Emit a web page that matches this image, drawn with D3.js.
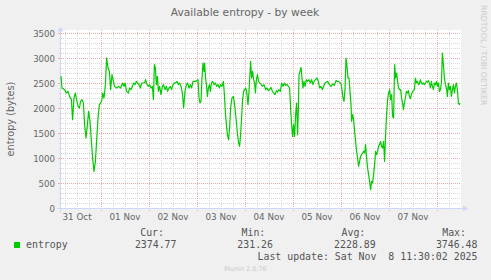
<html>
<head>
<script src="https://d3js.org/d3.v7.min.js"></script>
<style>
    body { margin: 0; background: #f0f0f0; }
    svg { display: block; font-family: "DejaVu Sans", sans-serif; }
    .mono { font-family: "DejaVu Sans Mono", monospace; font-size: 9.9px; fill: #555; }
</style>
</head>
<body>
<svg id="chart" width="491" height="280"></svg>
<script>
// hours after 31 Oct 2025 04:00, and the entropy read at that time
const hourOffsets = [
    0, 0.5, 1.8, 2.7, 3.5, 4.3, 5.2, 5.8, 6.5, 7.2, 7.8, 8.5, 9.2, 9.8, 10.5, 11.2, 11.8, 12.5, 13.2, 13.8,
    14.5, 15.2, 15.8, 16.5, 17.2, 17.8, 18.5, 19.2, 19.8, 20.5, 20.8, 21.5, 22.2, 22.8, 23.5, 24.2, 24.8, 25.5, 26.2, 26.8,
    27.8, 28.8, 29.8, 30.8, 31.5,
    32.0, 32.8, 33.7, 34.3, 35.0, 35.7, 36.3, 37.0, 37.7, 38.3, 39.0, 39.7, 40.3, 41.0, 41.7, 42.3, 43.0, 43.7, 44.3, 45.0,
    45.7, 46.2, 46.7, 47.2, 47.7, 48.2, 48.7, 49.3, 50.0, 50.7, 51.3, 52.0, 52.7, 53.3, 54.0, 54.7, 55.3, 56.0, 56.7, 57.3,
    58.0, 58.7, 59.3, 60.0, 60.7, 61.3, 62.0, 62.7, 63.3, 64.0, 64.7, 65.3, 66.0,
    66.3, 67.2, 68.0, 68.5, 69.0, 69.5, 70.0, 70.5, 71.0, 71.5, 71.8, 72.3, 72.8, 73.2, 73.7, 74.2, 74.7, 75.2, 75.8, 76.5,
    77.2, 77.8, 78.5, 79.2, 79.8, 80.5, 81.2, 81.7, 82.2, 82.7, 83.2, 83.8, 84.3, 84.8, 85.5, 86.2, 86.8, 87.5, 88.2, 88.8,
    89.3, 89.8, 90.3, 90.8, 91.3, 91.8, 92.3, 92.8, 93.5, 94.0, 94.5, 94.8, 95.3, 95.8, 96.3, 96.8, 97.2, 97.7, 98.2, 98.8,
    99.8, 100.7, 101.5, 102.3, 103.0, 103.7, 104.3, 105.0, 105.7, 106.3, 107.0, 107.7, 108.3, 109.0, 109.7, 110.3, 111.0, 111.7, 112.3, 113.0,
    113.7, 114.3, 114.8, 115.3, 115.8, 116.3, 116.8, 117.3, 117.8, 118.3, 118.7, 119.0, 119.5, 120.0, 120.5, 121.0, 121.5, 122.0, 122.7, 123.3,
    124.0, 124.7, 125.3, 126.0, 126.7, 127.3, 128.0, 128.7, 129.3, 130.0, 130.7, 131.3, 132.0,
    133.3, 134.2, 135.0, 135.8, 136.7, 137.5, 138.3, 139.2, 140.0, 140.5, 141.0, 141.5, 142.0, 142.5, 143.0, 143.5, 144.0, 144.5, 145.0, 145.3,
    145.8, 146.3, 146.8, 147.3, 147.8, 148.3, 148.8, 149.3, 149.8, 150.3, 150.8, 151.3, 151.8, 152.3, 152.8, 153.3, 153.8, 154.3, 154.8, 155.3,
    155.8, 156.3, 156.8, 157.3, 157.8, 158.3, 158.8, 159.3, 159.8, 160.3, 160.8, 161.3, 161.8, 162.3, 162.8, 163.3, 163.8, 164.3, 164.8, 165.3,
    165.8, 166.3, 166.8,
    167.3, 167.8, 168.3, 168.8, 169.3, 169.8, 170.3, 170.8, 171.2, 171.7, 172.2, 172.7, 173.2, 173.7, 174.2, 174.7, 175.2, 175.7, 176.2, 176.7,
    177.2, 177.7, 178.2, 178.7, 179.2, 179.7, 180.2, 180.7, 181.2, 181.7, 182.2, 182.7, 183.2, 183.7, 184.2, 184.7, 185.2, 185.7, 186.2, 186.7,
    187.2, 187.7, 188.2, 188.7, 189.2, 189.7, 190.2, 190.7, 191.2, 191.7, 192.2, 192.7, 193.2, 193.7, 194.2, 194.7, 195.2, 195.7, 196.2, 196.7,
    197.2, 197.7, 198.2, 198.7, 199.2, 199.5
];
const entropyValues = [
    2650, 2410, 2377, 2310, 2343, 2243, 2177, 1777, 2210, 2310, 2177, 2043, 2010, 2143, 2177, 2110, 1677, 1410, 1677, 1943,
    1743, 1343, 1010, 743, 943, 1343, 1810, 2077, 2110, 2177, 2310, 2210, 2477, 3010, 2810, 2743, 2377, 2677, 2543, 2443,
    2410, 2443, 2410, 2510, 2443,
    2510, 2343, 2310, 2410, 2377, 2443, 2510, 2477, 2543, 2510, 2477, 2410, 2510, 2510, 2510, 2577, 2477, 2443, 2477, 2410,
    2443, 2177, 2877, 2810, 2477, 2643, 2343, 2443, 2277, 2443, 2477, 2377, 2443, 2343, 2410, 2443, 2377, 2477, 2510, 2510,
    2543, 2477, 2510, 2443, 2310, 2010, 2343, 2477, 2510, 2410, 2477, 2410, 2543,
    2543, 2543, 2557, 2577, 2210, 2110, 2143, 2610, 2910, 2743, 2910, 2610, 2443, 2243, 2410, 2477, 2343, 2510, 2543, 2477,
    2510, 2443, 2477, 2410, 2477, 2443, 2543, 2277, 1910, 1677, 1477, 1377, 1610, 2010, 2210, 2243, 2077, 1810, 1510, 1310,
    1243, 1477, 1810, 2177, 2343, 2377, 2410, 2343, 2077, 2343, 2710, 2943, 2610, 2743, 2577, 2510, 2310, 2577, 2677, 2543,
    2490, 2443, 2477, 2377, 2410, 2357, 2377, 2423, 2343, 2310, 2277, 2357, 2330, 2377, 2343, 2510, 2443, 2510, 2463, 2477,
    2443, 2410, 2010, 1677, 1443, 1677, 1443, 1877, 2110, 1477, 2010, 2677, 2743, 2823, 2610, 2410, 2543, 2443, 2577, 2543,
    2577, 2510, 2577, 2477, 2557, 2577, 2610, 2543, 2410, 2443, 2377, 2443, 2510,
    2543, 2477, 2443, 2490, 2463, 2557, 2543, 2530, 2490, 2377, 2210, 2143, 2377, 3010, 2843, 2610, 2610, 2343, 2077, 1743,
    1877, 1777, 1543, 1343, 1143, 1010, 843, 943, 1043, 1077, 1110, 1143, 1110, 1277, 1010, 810, 677, 543, 377, 543,
    510, 677, 877, 1143, 1077, 1143, 1243, 1277, 1343, 1243, 1210, 1343, 943, 1477, 1877, 2177, 2310, 2377, 2177, 2277,
    1843, 1810, 2877,
    2610, 2710, 2543, 2410, 2377, 2377, 2210, 2110, 1977, 2110, 2210, 2343, 2310, 2357, 2243, 2197, 2277, 2330, 2357, 2377,
    2610, 2510, 2543, 2477, 2490, 2577, 2510, 2490, 2510, 2477, 2510, 2543, 2530, 2557, 2510, 2410, 2543, 2443, 2377, 2510,
    2477, 2543, 2443, 2510, 2343, 2377, 2510, 3110, 2877, 2610, 2477, 2410, 2243, 2510, 2377, 2443, 2243, 2377, 2477, 2310,
    2443, 2510, 2377, 2110, 2077, 2110
];
const yTicks = [0, 500, 1000, 1500, 2000, 2500, 3000, 3500];
const legendHeads = ["Cur:", "Min:", "Avg:", "Max:"];
const legendValues = ["2374.77", "231.26", "2228.89", "3746.48"];
const seriesName = "entropy";
const lastUpdate = "Last update: Sat Nov  8 11:30:02 2025";

const svg = d3.select("#chart");
const start = new Date(2025, 9, 31, 4, 0);
const end = new Date(2025, 10, 8, 12, 0);

const x = d3.scaleTime().domain([start, end]).range([61, 461]);
const y = d3.scaleLinear().domain([0, 3570]).range([208.5, 30]);
const plotLeft = 61, plotRight = 461, plotTop = 30, plotBottom = 208.5;

const data = hourOffsets.map((h, i) => ({
    t: new Date(start.getTime() + h * 3600000),
    v: entropyValues[i]
}));

// canvas
svg.append("rect").attr("x", plotLeft).attr("y", plotTop)
   .attr("width", plotRight - plotLeft).attr("height", plotBottom - plotTop).attr("fill", "#ffffff");

const grid = svg.append("g");
const minorCol = "#d8d8d8", majorCol = "#f0a6a6";

// horizontal grid, every 100
const hMinor = d3.range(100, 3500, 100).filter(v => v % 500 != 0);
grid.selectAll("line.hmin").data(hMinor).join("line")
    .attr("x1", plotLeft).attr("x2", plotRight)
    .attr("y1", d => y(d)).attr("y2", d => y(d))
    .attr("stroke", minorCol).attr("stroke-dasharray", "1,1");
grid.selectAll("line.hmaj").data(yTicks.filter(v => v > 0)).join("line")
    .attr("x1", plotLeft).attr("x2", plotRight)
    .attr("y1", d => y(d)).attr("y2", d => y(d))
    .attr("stroke", majorCol).attr("stroke-dasharray", "1,1");
// little ticks at the side
grid.selectAll("line.htick").data(yTicks.filter(v => v > 0)).join("line")
    .attr("x1", plotLeft - 3).attr("x2", plotLeft)
    .attr("y1", d => y(d)).attr("y2", d => y(d))
    .attr("stroke", majorCol);
grid.selectAll("line.htick2").data(hMinor).join("line")
    .attr("x1", plotLeft - 2).attr("x2", plotLeft)
    .attr("y1", d => y(d)).attr("y2", d => y(d))
    .attr("stroke", minorCol);

// vertical grid, 6 hours / day
const vMinor = d3.timeHour.every(6).range(start, end).filter(d => d.getHours() != 0);
const vMajor = d3.timeDay.range(start, end);
grid.selectAll("line.vmin").data(vMinor).join("line")
    .attr("x1", d => Math.round(x(d)) + 0.5).attr("x2", d => Math.round(x(d)) + 0.5)
    .attr("y1", plotTop).attr("y2", plotBottom + 2)
    .attr("stroke", minorCol).attr("stroke-dasharray", "1,1");
grid.selectAll("line.vmaj").data(vMajor).join("line")
    .attr("x1", d => Math.round(x(d)) + 0.5).attr("x2", d => Math.round(x(d)) + 0.5)
    .attr("y1", plotTop).attr("y2", plotBottom + 3)
    .attr("stroke", majorCol).attr("stroke-dasharray", "1,1");

// axes
const axisCol = "#cfd6f8";
svg.append("line").attr("x1", plotLeft - 4).attr("x2", plotRight + 4)
   .attr("y1", plotBottom).attr("y2", plotBottom).attr("stroke", axisCol);
svg.append("line").attr("x1", plotLeft - 0.5).attr("x2", plotLeft - 0.5)
   .attr("y1", plotBottom + 4).attr("y2", plotTop - 2).attr("stroke", axisCol);
svg.append("path").attr("fill", axisCol)
   .attr("d", `M${plotRight + 2},${plotBottom - 3}L${plotRight + 2},${plotBottom + 3}L${plotRight + 7},${plotBottom}Z`);
svg.append("path").attr("fill", axisCol)
   .attr("d", `M${plotLeft - 3.5},${plotTop + 1.5}L${plotLeft + 2.5},${plotTop + 1.5}L${plotLeft - 0.5},${plotTop - 3.5}Z`);

// series
const line = d3.line().x(d => x(d.t)).y(d => y(d.v));
svg.append("path").datum(data)
   .attr("d", line)
   .attr("fill", "none")
   .attr("stroke", "#00cc00")
   .attr("stroke-width", 1.2)
   .attr("stroke-linejoin", "round");

// tick labels
svg.selectAll("text.ytick").data(yTicks).join("text")
   .attr("x", 55).attr("y", d => y(d) + 3)
   .attr("text-anchor", "end")
   .style("font-size", "8.6px").style("fill", "#666")
   .text(d => d);

const dayFmt = d3.timeFormat("%d %b");
const labelDays = [d3.timeDay.floor(start)].concat(vMajor.slice(0, -1));
svg.selectAll("text.xtick").data(labelDays).join("text")
   .attr("x", d => x(d3.timeHour.offset(d, 12)))
   .attr("y", 219.5)
   .attr("text-anchor", "middle")
   .style("font-size", "8.8px").style("fill", "#666")
   .text(d => dayFmt(d));

// title, y label, watermark
svg.append("text").attr("x", 245).attr("y", 16)
   .attr("text-anchor", "middle")
   .style("font-size", "10.7px").style("fill", "#666")
   .text("Available entropy - by week");

svg.append("text").attr("transform", "translate(13.5,119) rotate(-90)")
   .attr("text-anchor", "middle")
   .style("font-size", "9.7px").style("fill", "#666")
   .text("entropy (bytes)");

svg.append("text").attr("transform", "translate(481,5) rotate(90)")
   .style("font-size", "7.8px").style("fill", "#cccccc")
   .text("RRDTOOL / TOBI OETIKER");

// legend
svg.append("rect").attr("x", 14).attr("y", 242).attr("width", 6).attr("height", 6)
   .attr("fill", "#00cc00");
svg.append("text").attr("class", "mono").attr("x", 26).attr("y", 248.3).text(seriesName);

const headEnds = [164, 265.3, 365.3, 466];
const valueEnds = [176.5, 273, 375.7, 477.5];
svg.selectAll("text.head").data(legendHeads).join("text")
   .attr("class", "mono").attr("text-anchor", "end")
   .attr("x", (d, i) => headEnds[i]).attr("y", 236)
   .text(d => d);
svg.selectAll("text.val").data(legendValues).join("text")
   .attr("class", "mono").attr("text-anchor", "end")
   .attr("x", (d, i) => valueEnds[i]).attr("y", 248.3)
   .text(d => d);
svg.append("text").attr("class", "mono").attr("text-anchor", "end")
   .attr("x", 477.5).attr("y", 259.7)
   .style("white-space", "pre")
   .text(lastUpdate);

svg.append("text").attr("x", 245.5).attr("y", 270.5)
   .attr("text-anchor", "middle")
   .style("font-size", "6.5px").style("fill", "#cccccc")
   .text("Munin 2.0.76");
</script>
</body>
</html>
